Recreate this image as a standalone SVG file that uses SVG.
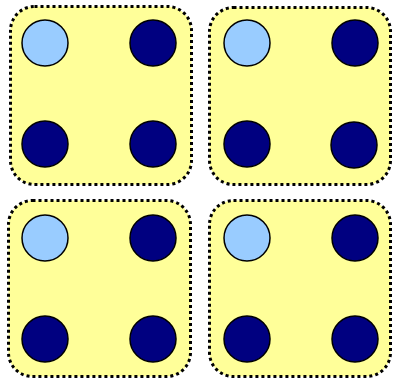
<svg xmlns="http://www.w3.org/2000/svg" width="394" height="381" viewBox="0 0 394 381">
<style>
.box{fill:#FFFF99;stroke:#000;stroke-width:3;stroke-dasharray:3 3}
.light{fill:#99CCFF;stroke:#000;stroke-width:1.5}
.dark{fill:#000080;stroke:#000;stroke-width:1.5}
</style>
<rect width="394" height="381" fill="#fff"/>
<g id="group1">
<rect class="box" x="10.5" y="6.5" width="181" height="178" rx="24"/>
<circle class="light" cx="45" cy="43" r="23"/>
<circle class="dark" cx="153" cy="43" r="23"/>
<circle class="dark" cx="45" cy="144" r="23"/>
<circle class="dark" cx="153" cy="144" r="23"/>
</g>
<g id="group2">
<rect class="box" x="209.5" y="7.5" width="181" height="177" rx="24"/>
<circle class="light" cx="247" cy="43" r="23"/>
<circle class="dark" cx="355" cy="43" r="23"/>
<circle class="dark" cx="247" cy="144" r="23"/>
<circle class="dark" cx="354" cy="145" r="23"/>
</g>
<g id="group3">
<rect class="box" x="8.5" y="200.5" width="182" height="176" rx="24"/>
<circle class="light" cx="45" cy="238" r="23"/>
<circle class="dark" cx="153" cy="238" r="23"/>
<circle class="dark" cx="45" cy="339" r="23"/>
<circle class="dark" cx="153" cy="339" r="23"/>
</g>
<g id="group4">
<rect class="box" x="209.5" y="200.5" width="181" height="176" rx="24"/>
<circle class="light" cx="247" cy="238" r="23"/>
<circle class="dark" cx="355" cy="238" r="23"/>
<circle class="dark" cx="247" cy="339" r="23"/>
<circle class="dark" cx="355" cy="339" r="23"/>
</g>
<g id="connectors"/>
</svg>
